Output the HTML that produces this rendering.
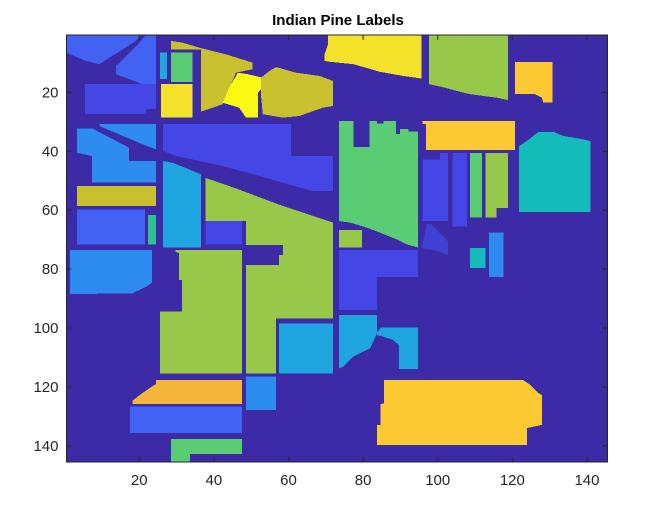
<!DOCTYPE html>
<html><head><meta charset="utf-8"><style>
html,body{margin:0;padding:0;background:#fff;}
svg{display:block;font-family:"Liberation Sans",Arial,sans-serif;}
</style></head><body>
<svg id="chart" width="666" height="510" viewBox="0 0 666 510">
<text x="338" y="25" text-anchor="middle" font-size="15" font-weight="bold" fill="#000">Indian Pine Labels</text>
<g id="plot"></g>
<g id="axes"></g>
</svg>
<script>
const xTicks = [20, 40, 60, 80, 100, 120, 140];
const yTicks = [20, 40, 60, 80, 100, 120, 140];
const gridSize = 145;
const classColors = {
  bg: "#3d2aa6", royal: "#4262f3", indigo: "#4546e6", dindigo: "#4040d6", sky: "#2e8bf0",
  cyan: "#1fa5df", teal: "#14bcb9", tgreen: "#2ec196", green: "#5acc74", lime: "#98c84a",
  olive: "#c9c02f", yellow: "#f3e12a", byellow: "#f9f914", lorange: "#fdc932", orange: "#f4b63a"
};
const regionNames = ["r1","r2","r3","r4","r5","r6","r7","r8","r9","r10","r10b","r11","r12","r13","r14","r15","r16","r17","r18","r19","r20","r21","r22","r23","r24","r25","r26","r27","r28","r29","r30","r31","r32","r33","r34","r35","r36","r37","r38","r39","r40","r41","r42"];
const regionClasses = ["royal","royal","cyan","green","yellow","olive","byellow","olive","indigo","sky","sky","olive","royal","tgreen","indigo","cyan","lime","indigo","sky","lime","sky","cyan","orange","royal","green","yellow","lime","lorange","lorange","green","lime","indigo","indigo","green","lime","teal","dindigo","teal","sky","indigo","cyan","cyan","lorange"];
const regionShapes = [
 [[0,0],[20,0],[18.6,2],[8.8,9.9],[5.2,8.8],[0,6]],
 [[21.3,0],[24,0],[24,18.1],[20.4,16.7],[13.3,13.3],[13.3,10.5],[19.1,3.2]],
 [[25.1,6],[26.9,6],[26.9,15],[25.1,15]],
 [[28,6],[33.8,6],[33.8,15.9],[28,15.9]],
 [[25.3,16.7],[33.8,16.7],[33.8,28.1],[25.3,28.1]],
 [[28,2],[31.2,2.6],[35.6,4.3],[42.8,6.6],[49.9,9.4],[49.9,11.6],[45.4,12.8],[41.9,23.5],[36.1,26],[36.1,4.9],[28,4.9]],
 [[45.9,12.8],[48.6,13.3],[52.6,14.5],[53,17.3],[51.3,19.6],[51.3,28.1],[48.1,28.1],[46.3,24.7],[41.9,23],[43.6,17.9]],
 [[52.1,14.5],[54.4,12.2],[56.2,10.9],[61.5,12.8],[67.8,13.9],[71.4,15.6],[71.4,24.1],[68.7,24.7],[62.4,27.5],[58,28.1],[52.6,26.9],[52.1,20.1]],
 [[5,16.7],[24,16.7],[24,25.2],[21.3,25.2],[21.3,26.9],[5,26.9]],
 [[2.8,31.8],[7,31.8],[16.8,38.3],[16.8,42.8],[24,42.8],[24,50.1],[6.8,50.1],[6.8,41.1],[2.8,40]],
 [[8.8,30.3],[24,30.3],[24,38.8],[20.4,37.1],[8.8,30.9]],
 [[2.8,51.3],[24,51.3],[24,58.1],[2.8,58.1]],
 [[2.8,59.2],[21.1,59.2],[21.1,71.1],[2.8,71.1]],
 [[21.8,61.1],[24,61.1],[24,71.1],[21.8,71.1]],
 [[25.8,30.3],[60.2,30.3],[60.2,41.1],[71.4,41.1],[71.4,53],[66,53],[53.5,48.5],[41.9,44.5],[29.4,41.1],[25.8,39.4]],
 [[25.8,42.8],[28.5,43.4],[36.1,47.3],[36.1,72.2],[25.8,72.2]],
 [[37.2,48.5],[45.2,52],[57.2,57.7],[71.4,63.7],[71.4,96.2],[56.2,96.2],[56.2,114.9],[48.1,114.9],[48.1,78.1],[56.9,78.1],[56.9,74.7],[58,74.7],[58,71.3],[48.1,71.3],[48.1,63.2],[37.2,63.2]],
 [[37.2,63.2],[47.1,63.2],[47.1,71.1],[37.2,71.1]],
 [[0.9,73],[22.9,73],[22.9,84.1],[21.3,85.5],[17.7,87.7],[0.9,88]],
 [[29.2,73],[47.1,73],[47.1,114.9],[25.1,114.9],[25.1,93.9],[30.9,93.9],[30.9,83.2],[30.1,83.2],[30.1,74.1],[29.2,73.6]],
 [[48.1,116],[56.2,116],[56.2,127.3],[48.1,127.3]],
 [[56.9,97.9],[71.4,97.9],[71.4,114.9],[56.9,114.9]],
 [[24,117.1],[47.1,117.1],[47.1,125.3],[17.7,125.3],[17.7,124.2],[20,121.9],[22.9,119.4],[24,118.5]],
 [[17,126.2],[47.1,126.2],[47.1,135.2],[17,135.2]],
 [[28,137.2],[47.1,137.2],[47.1,142.3],[33.1,142.3],[33.1,145],[28,145]],
 [[70.1,0],[95.2,0],[95.2,14.8],[90.2,13.9],[84,12.5],[76.9,9.9],[70.6,9.1],[69.1,8.8],[69.1,6.8],[70.1,3.2]],
 [[97.2,0],[118.3,0],[118.3,22.1],[115.3,21.3],[108.2,20.1],[104.6,19],[101.5,17.9],[97.2,16.7]],
 [[120.2,9.1],[130.3,9.1],[130.3,23],[127.8,23],[127.4,21.3],[125.6,20.1],[120.2,20.1]],
 [[95.4,29.2],[120.2,29.2],[120.2,39],[96.4,39],[96.4,30.3],[95.4,30.3]],
 [[73.1,29.2],[76.9,29.2],[76.9,38],[81.2,38],[81.2,29.2],[83.2,29.2],[83.2,30.1],[84.9,30.1],[84.9,29.2],[88.3,29.2],[88.3,33.7],[89.4,33.7],[89.4,32],[91.6,32],[91.6,32.8],[94.2,32.8],[94.2,72.2],[91.2,71.1],[88.5,69.4],[84,67.1],[80.5,65.4],[76,63.7],[73.1,63.2]],
 [[73.1,66.2],[79.2,66.2],[79.2,72.2],[73.1,72.2]],
 [[95.4,42.2],[100.1,42.2],[100.1,40],[102.2,40],[102.2,63.2],[95.4,63.2]],
 [[103.4,40],[107.3,40],[107.3,65.1],[103.4,65.1]],
 [[108.2,40],[111.4,40],[111.4,62],[108.2,62]],
 [[112.3,40],[118.3,40],[118.3,58.8],[115.3,58.8],[115.3,62],[112.3,62]],
 [[121.3,37.7],[123.4,36],[126.5,32.9],[130.5,32.9],[133.2,34.3],[137.2,35.1],[140.4,36],[140.4,60.1],[121.3,60.1]],
 [[96.6,64.1],[97.5,64.1],[102.2,69.9],[102.2,74.7],[100.1,73.7],[98.3,73],[95.2,72.4]],
 [[108.2,72.4],[112.3,72.4],[112.3,79.2],[108.2,79.2]],
 [[113.3,67.1],[117.1,67.1],[117.1,82.1],[113.3,82.1]],
 [[73.1,73],[94.2,73],[94.2,82.1],[83.2,82.1],[83.2,93.4],[73.1,93.4]],
 [[73.1,95.1],[83.2,95.1],[83.2,101.3],[81.4,106.4],[76.9,109.2],[74.2,112.6],[73.1,113.2]],
 [[83.2,101.1],[84.3,99.3],[94.2,99.3],[94.2,113.4],[89.1,113.4],[89.1,105.3],[87.6,103.6],[84.9,102.4],[83.2,101.9]],
 [[85.1,117.1],[122.3,117.1],[124.3,118.8],[126.5,121.7],[127.4,122.2],[127.4,132.4],[123.4,133.5],[123.4,139.2],[83.2,139.2],[83.2,132.4],[84.2,132.4],[84.2,125.3],[85.1,125.1]]
];
const NS = "http://www.w3.org/2000/svg";
const L = 66.5, T = 35, W = 541, H = 427;
function xScale(u){ return L + u * W / gridSize; }
function yScale(v){ return T + v * H / gridSize; }
const plot = document.getElementById('plot');
const axes = document.getElementById('axes');
const bg = document.createElementNS(NS,'rect');
bg.setAttribute('x', xScale(0)); bg.setAttribute('y', yScale(0));
bg.setAttribute('width', xScale(gridSize)-xScale(0)); bg.setAttribute('height', yScale(gridSize)-yScale(0));
bg.setAttribute('fill', classColors.bg);


plot.appendChild(bg);
regionShapes.forEach((pts, i) => {
  const p = document.createElementNS(NS,'polygon');
  p.setAttribute('points', pts.map(q => xScale(q[0]).toFixed(1)+','+yScale(q[1]).toFixed(1)).join(' '));
  p.setAttribute('fill', classColors[regionClasses[i]]);
  p.setAttribute('shape-rendering','crispEdges');
  
  
  plot.appendChild(p);
});
const frame = document.createElementNS(NS,'rect');
frame.setAttribute('x', L); frame.setAttribute('y', T); frame.setAttribute('width', W); frame.setAttribute('height', H);
frame.setAttribute('fill','none'); frame.setAttribute('stroke','#262626'); frame.setAttribute('stroke-width','1');


axes.appendChild(frame);
function line(x1,y1,x2,y2){
  const l = document.createElementNS(NS,'line');
  l.setAttribute('x1',x1); l.setAttribute('y1',y1); l.setAttribute('x2',x2); l.setAttribute('y2',y2);
  l.setAttribute('stroke','#262626'); l.setAttribute('stroke-width','1');
  
  
  axes.appendChild(l);
}
xTicks.forEach(t => {
  const x = xScale(t - 0.5);
  line(x, T+H, x, T+H-5); line(x, T, x, T+5);
  const tx = document.createElementNS(NS,'text');
  tx.setAttribute('x', x); tx.setAttribute('y', T+H+23);
  tx.setAttribute('text-anchor','middle'); tx.setAttribute('font-size','15'); tx.setAttribute('fill','#262626');
  tx.textContent = t;
  
  
  axes.appendChild(tx);
});
yTicks.forEach(t => {
  const y = yScale(t - 0.5);
  line(L, y, L+5, y); line(L+W, y, L+W-5, y);
  const tx = document.createElementNS(NS,'text');
  tx.setAttribute('x', L-8); tx.setAttribute('y', y+5);
  tx.setAttribute('text-anchor','end'); tx.setAttribute('font-size','15'); tx.setAttribute('fill','#262626');
  tx.textContent = t;
  
  
  axes.appendChild(tx);
});
</script>
</body></html>
